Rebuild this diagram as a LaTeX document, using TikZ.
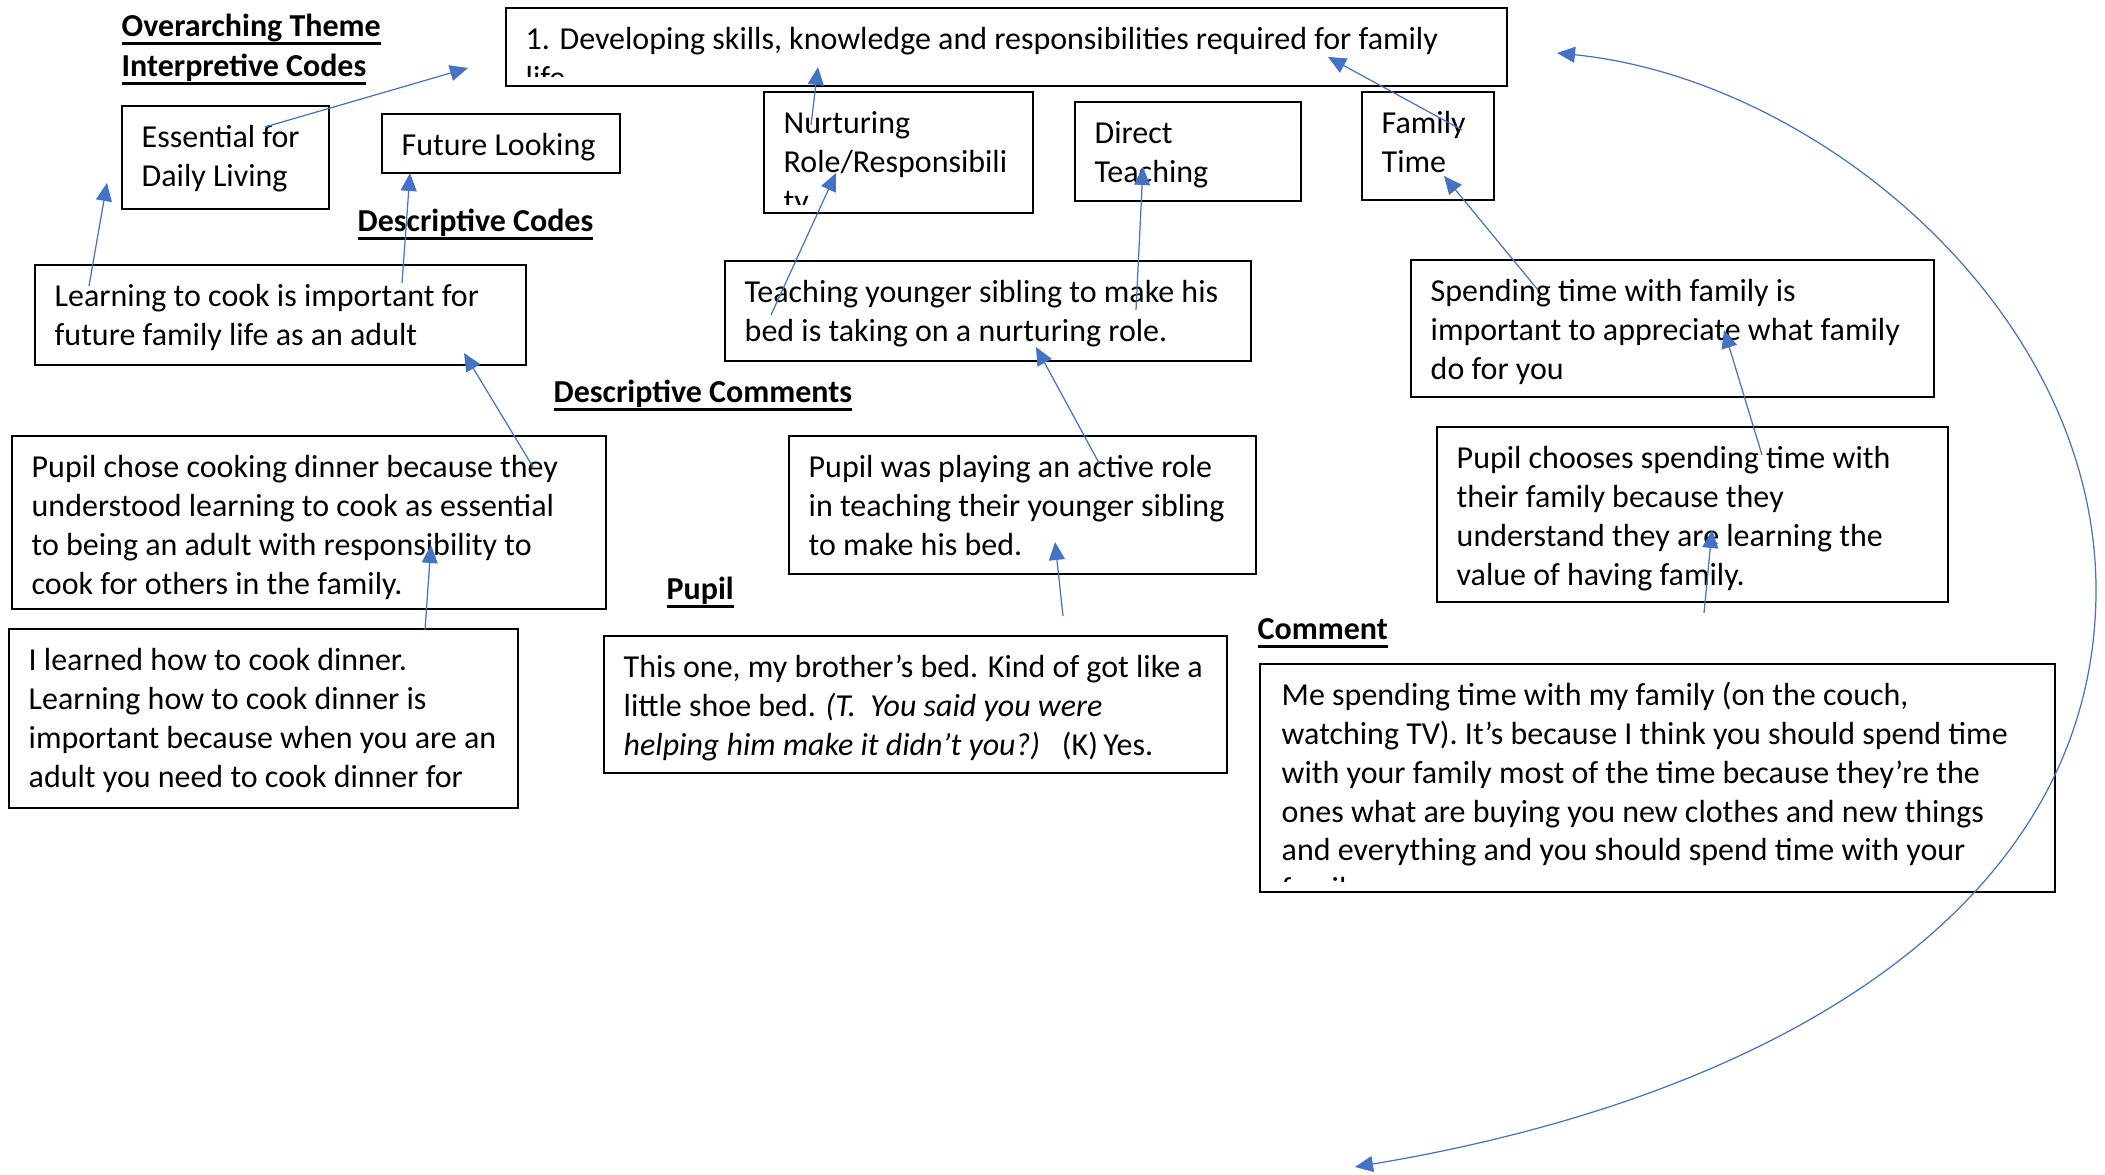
\documentclass[tikz,border=0pt]{standalone}
\usepackage{fontspec}
\setmainfont{Carlito}
\usetikzlibrary{arrows.meta,calc,positioning}
\definecolor{linkblue}{HTML}{4472C4}
\newcommand{\bodysize}{\fontsize{9.1}{11.06}\selectfont}
\newcommand{\headsize}{\fontsize{9.1}{11.06}\selectfont\bfseries}
% heading underline, at a fixed depth like the word processor draws it
\newcommand{\hul}[1]{\setbox0\hbox{#1}\leavevmode\rlap{\raisebox{-2.2pt}{\rule{\wd0}{0.75pt}}}\box0}
\tikzset{
    codebox/.style={draw,line width=0.7pt,anchor=north west,inner sep=0pt},
}
\begin{document}
\begin{tikzpicture}[x=0.1mm,y=-0.1mm,>={Triangle[length=1.8mm,width=1.6mm]}]
%% text and line styles
\tikzstyle{txt}=[anchor=north west,inner sep=0pt,align=left,font=\bodysize]
\tikzstyle{heading}=[anchor=base west,inner sep=0pt,font=\headsize]
\tikzstyle{link}=[->,draw=linkblue,line width=0.35pt]
\useasboundingbox (0,0) rectangle (2105,1175);

%% boxes
\foreach \name/\x/\y/\w/\h in {top/505/7/100.1/7.8, ess/121/105/20.7/10.3, fut/381/113/23.8/5.9,
  nur/763/91/26.9/12.1, dir/1074/101/22.6/9.9, fam/1361/91/13.2/10.8,
  learn/34/264/49.1/10.0, teach/724/260/52.6/10.0, spend/1410/259/52.3/13.7,
  chose/11/435/59.4/17.3, play/788/435/46.7/13.8, chooses/1436/426/51.1/17.5,
  learned/8/628/50.9/17.9, thisone/603/635/62.3/13.7, me/1259/663/79.5/22.8}
\node[codebox,minimum width=\w mm,minimum height=\h mm] (\name) at (\x,\y) {};

%% headings
\node[heading] (h-theme) at (121,37) {\hul{Overarching Theme}};
\node[heading] (h-interp) at (121,77) {\hul{Interpretive Codes}};
\node[heading] (h-desc) at (357,232) {\hul{Descriptive Codes}};
\node[heading] (h-comm) at (553,403) {\hul{Descriptive Comments}};
\node[heading] (h-pupil) at (666,600) {\hul{Pupil}};
\node[heading] (h-comment) at (1257,640) {\hul{Comment}};

%% box texts
% theme (cut off at the bottom)
\begin{scope}
\clip (top.north west) rectangle ($(top.south east)+(0,-11)$);
\node[txt] (top-t) at ($(top.north west)+(20,14.5)$) {\strut 1. Developing skills, knowledge and responsibilities required for family\\life};
\end{scope}
% interpretive codes
\node[txt] (ess-t) at ($(ess.north west)+(20,14.5)$) {\strut Essential for\\Daily Living};
\node[txt] (fut-t) at ($(fut.north west)+(20,14.5)$) {\strut Future Looking};
\begin{scope}
\clip (nur.north west) rectangle ($(nur.south east)+(0,-10)$);
\node[txt] (nur-t) at ($(nur.north west)+(20,14.5)$) {\strut Nurturing\\Role/Responsibili\\ty};
\end{scope}
\node[txt] (dir-t) at ($(dir.north west)+(20,14.5)$) {\strut Direct\\Teaching};
\node[txt] (fam-t) at ($(fam.north west)+(20,14.5)$) {\strut Family\\Time};
% descriptive codes
\node[txt] (learn-t) at ($(learn.north west)+(20,14.5)$) {\strut Learning to cook is important for\\future family life as an adult};
\node[txt] (teach-t) at ($(teach.north west)+(20,14.5)$) {\strut Teaching younger sibling to make his\\bed is taking on a nurturing role.};
\node[txt] (spend-t) at ($(spend.north west)+(20,14.5)$) {\strut Spending time with family is\\important to appreciate what family\\do for you};
% descriptive comments
\node[txt] (chose-t) at ($(chose.north west)+(20,14.5)$) {\strut Pupil chose cooking dinner because they\\understood learning to cook as essential\\to being an adult with responsibility to\\cook for others in the family.};
\node[txt] (play-t) at ($(play.north west)+(20,14.5)$) {\strut Pupil was playing an active role\\in teaching their younger sibling\\to make his bed.};
\node[txt] (chooses-t) at ($(chooses.north west)+(20,14.5)$) {\strut Pupil chooses spending time with\\their family because they\\understand they are learning the\\value of having family.};
% pupil comments
\node[txt] (learned-t) at ($(learned.north west)+(20,14.5)$) {\strut I learned how to cook dinner.\\Learning how to cook dinner is\\important because when you are an\\adult you need to cook dinner for};
\node[txt] (thisone-t) at ($(thisone.north west)+(20,14.5)$) {\strut This one, my brother’s bed. Kind of got like a\\little shoe bed. \textit{(T.\ \ You said you were}\\\textit{helping him make it didn’t you?)}\ \ \ (K)\,Yes.};
\begin{scope}
\clip (me.north west) rectangle ($(me.south east)+(0,-12)$);
\node[txt] (me-t) at ($(me.north west)+(22,14.5)$) {\strut Me spending time with my family (on the couch,\\watching TV). It’s because I think you should spend time\\with your family most of the time because they’re the\\ones what are buying you new clothes and new things\\and everything and you should spend time with your\\family.};
\end{scope}

%% link ends
\coordinate (ess-s) at (265,127);      \coordinate (theme-w) at (468,68);
\coordinate (learn-s1) at (89,286);    \coordinate (ess-in) at (107,183);
\coordinate (learn-s2) at (402,283);   \coordinate (fut-in) at (410,173);
\coordinate (chose-s) at (533,467);    \coordinate (learn-in) at (464,353);
\coordinate (learned-s) at (425,630);  \coordinate (chose-in) at (431,545);
\coordinate (teach-s1) at (771,315);   \coordinate (nur-in) at (836,173);
\coordinate (nur-s) at (811,125);      \coordinate (top-in1) at (818,67);
\coordinate (teach-s2) at (1136,310);  \coordinate (dir-in) at (1143,167);
\coordinate (play-s) at (1099,463);    \coordinate (teach-in) at (1036,347);
\coordinate (thisone-s) at (1063,616); \coordinate (play-in) at (1055,542);
\coordinate (fam-s) at (1462,130);     \coordinate (top-in2) at (1328,57);
\coordinate (spend-s) at (1538,290);   \coordinate (fam-in) at (1444,176);
\coordinate (chooses-s) at (1762,455); \coordinate (spend-in) at (1724,330);
\coordinate (comment-s) at (1704,613); \coordinate (chooses-in) at (1712,530);
\coordinate (loop-a) at (1557,53);
\coordinate (loop-m) at (2096,590);
\coordinate (loop-b) at (1355,1167);

%% links
\foreach \from/\to in {ess-s/theme-w,learn-s1/ess-in,learn-s2/fut-in,chose-s/learn-in,
  learned-s/chose-in,teach-s1/nur-in,nur-s/top-in1,teach-s2/dir-in,play-s/teach-in,
  thisone-s/play-in,fam-s/top-in2,spend-s/fam-in,chooses-s/spend-in,comment-s/chooses-in}
\draw[link] (\from) -- (\to);
% big loop back to the theme
\draw[link,<->] (loop-a) .. controls (1817,79) and (2096,310) .. (loop-m)
  .. controls (2096,905) and (1780,1096) .. (loop-b);
\end{tikzpicture}
\end{document}
